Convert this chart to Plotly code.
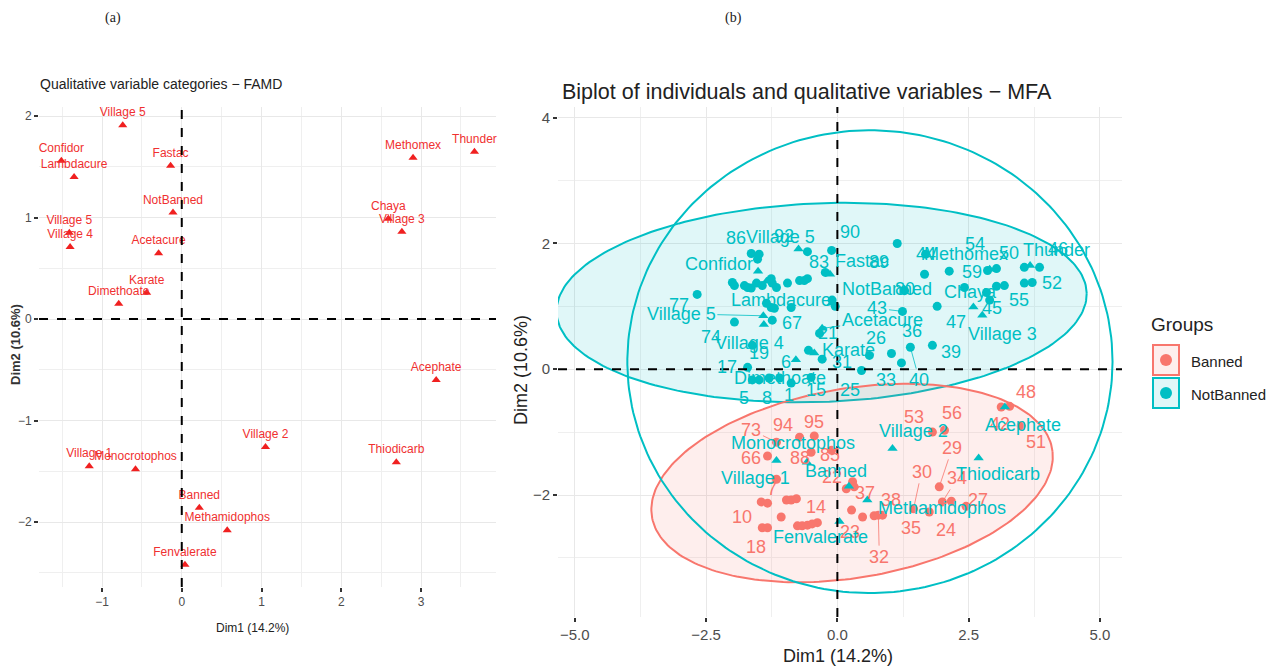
import numpy as np
import plotly.graph_objects as go

W, H = 1273, 668

# ---------------- data ----------------
cat_names = ["Village 5", "Confidor", "Lambdacure", "Fastac", "NotBanned", "Village 5", "Village 4",
             "Acetacure", "Karate", "Dimethoate", "Methomex", "Thunder", "Chaya", "Village 3",
             "Village 1", "Monocrotophos", "Banned", "Methamidophos", "Fenvalerate", "Village 2",
             "Acephate", "Thiodicarb"]
cat_dim1 = [-0.74, -1.51, -1.35, -0.14, -0.11, -1.41, -1.40, -0.29, -0.44, -0.79, 2.90, 3.67, 2.59, 2.76,
            -1.16, -0.58, 0.22, 0.57, 0.04, 1.05, 3.19, 2.69]
cat_dim2 = [1.91, 1.56, 1.40, 1.51, 1.05, 0.85, 0.71, 0.65, 0.26, 0.15, 1.59, 1.65, 0.99, 0.86,
            -1.45, -1.48, -1.86, -2.08, -2.42, -1.26, -0.60, -1.41]

# individuals, group NotBanned ("" = label hidden by repel)
nb_id = ["86", "92", "", "", "90", "83", "89", "44",
         "", "", "", "", "", "", "", "", "", "", "", "", "", "",
         "77", "", "", "", "", "", "",
         "74", "67", "21", "19", "6", "31", "17", "5", "8", "1", "15", "", "",
         "25", "26", "36", "33", "40", "39", "43", "47", "80", "", "",
         "54", "59", "", "50", "55", "", "46", "", "52", "", "45"]
nb_dim1 = [-1.64, -1.49, -1.52, -0.57, -0.11, -0.23, 1.14, 1.68,
           -2.00, -1.96, -1.77, -1.71, -1.64, -1.54, -1.43, -1.26, -1.24, -1.16, -0.95, -0.72, -0.63, -0.57,
           -2.67, -1.35, -1.26, -1.20, -0.88, -0.10, -0.04,
           -1.96, -1.24, -0.34, -1.62, -0.55, -0.29, -1.71, -1.62, -1.49, -0.88, -0.50, -1.30, -1.10,
           0.46, 0.61, 1.03, 1.22, 1.39, 1.81, 1.24, 1.90, 1.28, 1.66, 2.13,
           2.86, 2.42, 2.84, 3.03, 3.03, 3.18, 3.85, 3.56, 3.71, 3.56, 2.90]
nb_dim2 = [1.84, 1.83, 1.75, 1.87, 1.89, 1.54, 2.00, 1.83,
           1.38, 1.33, 1.33, 1.30, 1.29, 1.37, 1.33, 1.44, 1.37, 1.30, 1.37, 1.41, 1.41, 1.44,
           1.19, 1.05, 0.98, 0.97, 0.98, 1.10, 1.00,
           0.75, 0.78, 0.57, 0.38, 0.30, 0.16, 0.03, -0.17, -0.17, -0.22, -0.13, -0.14, -0.14,
           -0.02, 0.22, 0.25, 0.10, 0.35, 0.38, 0.92, 1.00, 1.25, 1.51, 1.56,
           1.57, 1.30, 1.22, 1.60, 1.32, 1.33, 1.62, 1.62, 1.38, 1.37, 1.10]

# individuals, group Banned
b_id = ["94", "95", "73", "66", "88", "85", "7", "10", "", "", "", "", "", "18", "", "14",
        "", "", "", "", "22", "", "", "37", "23", "38", "32", "",
        "53", "56", "30", "35", "29", "34", "24", "27", "48", "42", "51"]
b_dim1 = [-0.72, -0.44, -1.16, -1.33, -0.50, -0.11, -1.16, -1.45, -1.33, -0.97, -0.88, -0.78, -1.07,
          -1.43, -1.33, -0.38, -0.76, -0.67, -0.57, -0.48, 0.17, 0.29, 0.32, 0.27, 0.48, 0.70, 0.78, 0.86,
          1.81, 2.04, 1.45, 1.75, 1.94, 2.00, 2.17, 2.45, 3.12, 3.28, 3.50]
b_dim2 = [-1.08, -1.06, -1.16, -1.38, -1.32, -1.29, -1.75, -2.11, -2.13, -2.08, -2.08, -2.06, -2.35,
          -2.52, -2.52, -2.44, -2.49, -2.49, -2.48, -2.46, -1.90, -1.79, -1.87, -2.24, -2.35, -2.33, -2.32, -2.32,
          -1.00, -0.97, -2.22, -2.27, -1.87, -2.11, -2.10, -2.18, -0.60, -0.59, -0.90]

# concentration ellipses (centre, semi-axes, rotation in radians)
ell_notbanned = dict(cx=-0.30, cy=1.06, a=5.05, b=1.58, angle=0.03)
ell_banned = dict(cx=0.28, cy=-1.81, a=3.85, b=1.51, angle=0.13)
ell_outer = dict(cx=0.62, cy=0.12, a=4.62, b=3.68, angle=0.0)

assert len(nb_id) == len(nb_dim1) == len(nb_dim2)
assert len(b_id) == len(b_dim1) == len(b_dim2)

# ---------------- label placement (pixel offsets, repel-like) ----------------
cat_lab_off = [(-18, -12, 0), (-39, -7, 0), (15, 19, 0), (32, -13, 0), (55, -14, 0), (-82, -2, 1),
               (-14, 18, 0), (60, -8, 1), (34, -3, 0), (-16, 18, 0), (-24, -15, 0), (26, -15, 0),
               (-3, -15, 0), (20, 19, 0), (-21, 18, 0), (-14, -19, 0), (-13, -15, 0), (75, 8, 0),
               (-19, 16, 0), (21, -17, 0), (18, 18, 0), (19, 16, 0)]
nb_lab_off = {"86": (-15, -16, 0), "92": (25, -18, 0), "90": (18, -18, 0), "83": (-6, -10, 0),
              "89": (-18, 19, 0), "44": (0, 0, 0), "77": (-18, 11, 0), "74": (-23, 15, 0),
              "67": (20, 3, 0), "21": (8, 0, 0), "19": (7, 8, 0), "6": (-22, 12, 0), "31": (20, 3, 0),
              "17": (-21, 0, 0), "5": (-8, 18, 0), "8": (8, 18, 0), "1": (-2, 12, 0), "15": (5, 13, 0),
              "25": (-12, 20, 0), "26": (7, -17, 0), "36": (21, -23, 0), "33": (-15, 17, 0),
              "40": (9, 33, 1), "39": (19, 7, 0), "43": (-25, -3, 1), "47": (19, 16, 0), "80": (0, -2, 0),
              "54": (-13, -27, 0), "59": (8, -15, 0), "50": (13, -16, 0), "55": (23, 14, 0),
              "46": (18, -18, 0), "52": (20, 1, 0), "45": (2, 8, 0)}
b_lab_off = {"94": (-17, -12, 0), "95": (0, -14, 0), "73": (-25, -12, 1), "66": (-17, 2, 0),
             "88": (-11, 6, 0), "85": (-2, 5, 0), "7": (-4, 10, 0), "10": (-19, 15, 0), "18": (-6, 19, 0),
             "14": (-1, -16, 0), "22": (-14, -12, 1), "37": (13, -17, 0), "23": (-13, 15, 0),
             "38": (17, -16, 0), "32": (1, 42, 1), "53": (-18, -15, 0), "56": (7, -17, 0),
             "30": (8, -37, 1), "35": (-18, 16, 0), "29": (13, -39, 1), "34": (15, -24, 1),
             "24": (-5, 29, 0), "27": (12, -6, 0), "48": (25, -15, 0), "42": (-10, 18, 0), "51": (15, 16, 0)}

RED = "#F8766D"
TEAL = "#00BFC4"
SANS = "Liberation Sans, Arial, sans-serif"
NARROW = "Liberation Sans Narrow, Arial Narrow, Liberation Sans, sans-serif"
GRID = "#E8E8E8"
TICKC = "#4D4D4D"
LAB = 18


def ellipse(p, n=240):
    t = np.linspace(0, 2 * np.pi, n)
    c, s = np.cos(p["angle"]), np.sin(p["angle"])
    ex = p["cx"] + p["a"] * np.cos(t) * c - p["b"] * np.sin(t) * s
    ey = p["cy"] + p["a"] * np.cos(t) * s + p["b"] * np.sin(t) * c
    return ex, ey


fig = go.Figure()

# ---------------- panel (a) ----------------
fig.add_trace(go.Scatter(
    x=cat_dim1, y=cat_dim2, mode="markers+text", text=cat_names, textposition="top center",
    marker=dict(symbol="triangle-up", size=8, color="#F02020"),
    textfont=dict(family=NARROW, size=12, color="#F03030"),
    xaxis="x", yaxis="y", showlegend=False, cliponaxis=False, hoverinfo="skip"))

# ---------------- panel (b) ----------------
for p, col, fill in [(ell_notbanned, TEAL, "rgba(0,191,196,0.12)"),
                     (ell_banned, RED, "rgba(248,118,109,0.12)")]:
    ex, ey = ellipse(p)
    fig.add_trace(go.Scatter(x=ex, y=ey, mode="lines", fill="toself", fillcolor=fill,
                             line=dict(color=col, width=2), xaxis="x2", yaxis="y2",
                             showlegend=False, hoverinfo="skip"))
ex, ey = ellipse(ell_outer)
fig.add_trace(go.Scatter(x=ex, y=ey, mode="lines", line=dict(color=TEAL, width=2),
                         xaxis="x2", yaxis="y2", showlegend=False, hoverinfo="skip"))

fig.add_trace(go.Scatter(x=b_dim1, y=b_dim2, mode="markers", marker=dict(size=9, color=RED),
                         xaxis="x2", yaxis="y2", showlegend=False, hoverinfo="skip"))
fig.add_trace(go.Scatter(x=nb_dim1, y=nb_dim2, mode="markers", marker=dict(size=9, color=TEAL),
                         xaxis="x2", yaxis="y2", showlegend=False, hoverinfo="skip"))
fig.add_trace(go.Scatter(x=cat_dim1, y=cat_dim2, mode="markers",
                         marker=dict(symbol="triangle-up", size=9, color=TEAL),
                         xaxis="x2", yaxis="y2", showlegend=False, hoverinfo="skip"))

ann = []


def add_label(x, y, text, off, color, size=LAB):
    dx, dy, line = off
    if line:
        ann.append(dict(x=x, y=y, xref="x2", yref="y2", text=text, showarrow=True, arrowhead=0,
                        arrowwidth=0.8, arrowcolor=color, ax=dx, ay=dy, standoff=3,
                        font=dict(family=SANS, size=size, color=color)))
    else:
        ann.append(dict(x=x, y=y, xref="x2", yref="y2", text=text, showarrow=False,
                        xshift=dx, yshift=-dy, xanchor="center", yanchor="middle",
                        font=dict(family=SANS, size=size, color=color)))


for x, y, t in zip(b_dim1, b_dim2, b_id):
    if t:
        add_label(x, y, t, b_lab_off[t], RED)
for x, y, t in zip(nb_dim1, nb_dim2, nb_id):
    if t:
        add_label(x, y, t, nb_lab_off[t], TEAL)
for x, y, t, off in zip(cat_dim1, cat_dim2, cat_names, cat_lab_off):
    add_label(x, y, t, off, TEAL)


def px(x):
    return x / W


def py(y):
    return 1 - y / H


# titles & axis titles
ann += [
    dict(x=px(38), y=py(84), xref="paper", yref="paper", text="Qualitative variable categories − FAMD",
         showarrow=False, xanchor="left", yanchor="middle", font=dict(family=NARROW, size=14, color="#222")),
    dict(x=px(560), y=py(92), xref="paper", yref="paper",
         text="Biplot of individuals and qualitative variables − MFA",
         showarrow=False, xanchor="left", yanchor="middle", font=dict(family=SANS, size=21.5, color="#222")),
    dict(x=px(252), y=py(628), xref="paper", yref="paper", text="Dim1 (14.2%)", showarrow=False,
         xanchor="center", yanchor="middle", font=dict(family=NARROW, size=12, color="#222")),
    dict(x=px(15), y=py(345), xref="paper", yref="paper", text="<b>Dim2 (10.6%)</b>", showarrow=False,
         textangle=-90, xanchor="center", yanchor="middle", font=dict(family=NARROW, size=13, color="#333")),
    dict(x=px(838), y=py(656), xref="paper", yref="paper", text="Dim1 (14.2%)", showarrow=False,
         xanchor="center", yanchor="middle", font=dict(family=SANS, size=18, color="#222")),
    dict(x=px(521), y=py(370), xref="paper", yref="paper", text="Dim2 (10.6%)", showarrow=False,
         textangle=-90, xanchor="center", yanchor="middle", font=dict(family=SANS, size=18, color="#222")),
    dict(x=px(113), y=py(18), xref="paper", yref="paper", text="(a)", showarrow=False,
         xanchor="center", yanchor="middle",
         font=dict(family="Liberation Serif, Times New Roman, serif", size=14, color="#222")),
    dict(x=px(733), y=py(18), xref="paper", yref="paper", text="(b)", showarrow=False,
         xanchor="center", yanchor="middle",
         font=dict(family="Liberation Serif, Times New Roman, serif", size=14, color="#222")),
    dict(x=px(1149), y=py(325), xref="paper", yref="paper", text="Groups", showarrow=False,
         xanchor="left", yanchor="middle", font=dict(family=SANS, size=19, color="#222")),
    dict(x=px(1189), y=py(361), xref="paper", yref="paper", text="Banned", showarrow=False,
         xanchor="left", yanchor="middle", font=dict(family=SANS, size=15, color="#222")),
    dict(x=px(1189), y=py(394), xref="paper", yref="paper", text="NotBanned", showarrow=False,
         xanchor="left", yanchor="middle", font=dict(family=SANS, size=15, color="#222")),
]

shapes = []
for xr, yr in [("x", "y"), ("x2", "y2")]:
    shapes.append(dict(type="line", xref=xr, yref=yr + " domain", x0=0, x1=0, y0=0, y1=1,
                       line=dict(color="black", width=2, dash="dash")))
    shapes.append(dict(type="line", xref=xr + " domain", yref=yr, x0=0, x1=1, y0=0, y1=0,
                       line=dict(color="black", width=2, dash="dash")))

# legend keys
for (top, col, fill) in [(345, RED, "rgba(248,118,109,0.12)"), (378, TEAL, "rgba(0,191,196,0.12)")]:
    shapes.append(dict(type="rect", xref="paper", yref="paper", x0=px(1153), x1=px(1179),
                       y0=py(top + 30), y1=py(top), line=dict(color=col, width=2), fillcolor=fill))
    cy = top + 15
    shapes.append(dict(type="circle", xref="paper", yref="paper", x0=px(1160), x1=px(1172),
                       y0=py(cy + 6), y1=py(cy - 6), line=dict(color=col, width=0), fillcolor=col))


def axis_style(**kw):
    d = dict(showgrid=True, gridcolor=GRID, gridwidth=1.2, zeroline=False, showline=False,
             ticks="outside", ticklen=4, tickwidth=2, tickcolor="#333333")
    d.update(kw)
    return d


fig.update_layout(
    width=W, height=H, margin=dict(l=0, r=0, t=0, b=0),
    paper_bgcolor="white", plot_bgcolor="white", showlegend=False,
    xaxis=axis_style(domain=[px(39), px(496)], range=[-1.79, 3.94], anchor="y", tick0=0, dtick=1,
                     minor=dict(dtick=0.5, showgrid=True, gridcolor="#EFEFEF", gridwidth=0.8),
                     tickfont=dict(family=NARROW, size=12, color=TICKC)),
    yaxis=axis_style(domain=[py(587), py(107)], range=[-2.64, 2.09], anchor="x", tick0=0, dtick=1,
                     minor=dict(dtick=0.5, showgrid=True, gridcolor="#EFEFEF", gridwidth=0.8),
                     tickfont=dict(family=NARROW, size=12, color=TICKC)),
    xaxis2=axis_style(domain=[px(558), px(1122)], range=[-5.32, 5.42], anchor="y2", tick0=0, dtick=2.5,
                      tickformat=".1f",
                      minor=dict(dtick=1.25, showgrid=True, gridcolor="#EFEFEF", gridwidth=0.8),
                      tickfont=dict(family=SANS, size=15, color=TICKC)),
    yaxis2=axis_style(domain=[py(617), py(107)], range=[-3.94, 4.17], anchor="x2", tick0=0, dtick=2,
                      minor=dict(dtick=1, showgrid=True, gridcolor="#EFEFEF", gridwidth=0.8),
                      tickfont=dict(family=SANS, size=15, color=TICKC)),
    annotations=ann, shapes=shapes,
)

fig.write_html("out.html", config={"displayModeBar": False},
               post_script="document.body.style.margin='0';document.body.style.overflow='hidden';")
